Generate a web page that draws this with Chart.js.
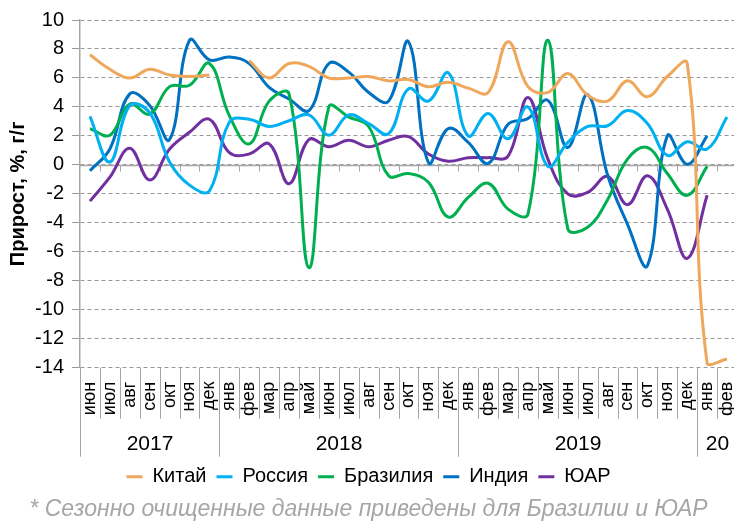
<!DOCTYPE html>
<html>
<head>
<meta charset="utf-8">
<script src="https://cdn.jsdelivr.net/npm/chart.js@4.4.1/dist/chart.umd.min.js"></script>
<style>
  html, body { margin: 0; padding: 0; background: #fff; overflow: hidden; }
  #wrap { width: 744px; height: 522px; }
</style>
</head>
<body>
<div id="wrap"><canvas id="chart" width="744" height="522"></canvas></div>
<script>
const months = ['июн', 'июл', 'авг', 'сен', 'окт', 'ноя', 'дек',
    'янв', 'фев', 'мар', 'апр', 'май', 'июн', 'июл', 'авг', 'сен', 'окт', 'ноя', 'дек',
    'янв', 'фев', 'мар', 'апр', 'май', 'июн', 'июл', 'авг', 'сен', 'окт', 'ноя', 'дек',
    'янв', 'фев'];
const yearLabels = ['2017', '2018', '2019', '20'];
const yearSizes = [7, 12, 12, 2];

const china = [7.6, 6.6, 6.0, 6.6, 6.2, 6.1, 6.2, null, 7.2, 6.0, 7.0, 6.8, 6.0, 6.0, 6.1, 5.8,
    5.9, 5.4, 5.7, 5.3, 5.0, 8.5, 5.4, 5.0, 6.3, 4.8, 4.4, 5.8, 4.7, 6.1, 7.0, -13.7, -13.4];
const russia = [3.35, 0.2, 4.1, 3.6, 0.2, -1.4, -1.8, 2.95, 3.15, 2.65, 3.05, 3.45, 2.05, 3.45,
    2.85, 2.15, 5.25, 4.4, 6.35, 2.0, 3.55, 1.8, 4.0, -0.1, 1.55, 2.65, 2.7, 3.75, 2.85, 0.65,
    1.6, 1.1, 3.3];
const brazil = [2.5, 2.05, 4.2, 3.5, 5.4, 5.5, 7.0, 3.4, 1.45, 4.4, 4.9, -7.1, 4.0, 3.3, 2.65,
    -0.75, -0.6, -1.2, -3.6, -2.25, -1.27, -3.05, -3.4, 8.6, -4.4, -4.3, -2.4, 0.4, 1.2, -0.6,
    -2.1, -0.1, null];
const india = [-0.4, 1.1, 4.9, 4.1, 1.75, 8.6, 7.25, 7.45, 7.0, 5.35, 4.55, 3.75, 7.0, 6.4, 5.0,
    4.4, 8.5, 0.15, 2.5, 1.55, 0.1, 2.8, 3.2, 4.45, 1.2, 4.85, -0.7, -4.1, -6.95, 2.0, 0.05,
    2.0, null];
const sar = [-2.5, -0.85, 1.15, -1.05, 1.1, 2.25, 3.15, 0.85, 0.75, 1.45, -1.3, 1.75, 1.25, 1.7,
    1.25, 1.7, 1.95, 0.75, 0.25, 0.5, 0.5, 0.6, 4.65, 0.4, -2.0, -1.9, -0.8, -2.75, -0.75,
    -3.05, -6.45, -2.1, null];

const FONT = "'Liberation Sans', Arial, sans-serif";
const AXIS_GREY = '#a6a6a6';

function series(label, data, color) {
    return {
        label, data,
        borderColor: color,
        backgroundColor: color,
        borderWidth: 3,
        pointRadius: 0,
        tension: 0.4,
        spanGaps: false
    };
}

// separators, zero line and year row under the month labels
const axisDecor = {
    id: 'axisDecor',
    beforeDatasetsDraw(chart) {
        const { ctx, chartArea, scales: { x, y } } = chart;
        const half = (x.getPixelForValue(1) - x.getPixelForValue(0)) / 2;
        const edge = i => Math.round(x.getPixelForValue(i) - half) + 0.5;
        const bottom = chartArea.bottom;
        const y0 = Math.round(y.getPixelForValue(0)) + 0.5;

        ctx.save();
        ctx.strokeStyle = AXIS_GREY;
        ctx.lineWidth = 1.5;
        ctx.beginPath();
        ctx.moveTo(chartArea.left, y0);
        ctx.lineTo(chartArea.right, y0);
        ctx.stroke();

        ctx.lineWidth = 1;
        ctx.beginPath();
        for (let i = 1; i <= months.length; i++) {
            ctx.moveTo(edge(i), y0);
            ctx.lineTo(edge(i), y0 + 6);
            ctx.moveTo(edge(i), bottom);
            ctx.lineTo(edge(i), bottom + 51);
        }
        // year boundaries go further down
        let start = 0;
        ctx.moveTo(edge(0), bottom);
        ctx.lineTo(edge(0), bottom + 89);
        yearSizes.forEach(n => {
            start += n;
            ctx.moveTo(edge(start), bottom);
            ctx.lineTo(edge(start), bottom + 89);
        });
        ctx.stroke();

        ctx.fillStyle = '#000';
        ctx.font = '21px ' + FONT;
        ctx.textAlign = 'center';
        ctx.textBaseline = 'middle';
        start = 0;
        yearSizes.forEach((n, k) => {
            const mid = (edge(start) + edge(start + n)) / 2;
            ctx.fillText(yearLabels[k], mid, bottom + 77);
            start += n;
        });
        ctx.restore();
    }
};

new Chart(document.getElementById('chart'), {
    type: 'line',
    data: {
        labels: months,
        datasets: [
            series('Китай', china, '#EEA75B'),
            series('Россия', russia, '#00B0F0'),
            series('Бразилия', brazil, '#00B050'),
            series('Индия', india, '#0070C0'),
            series('ЮАР', sar, '#7030A0')
        ]
    },
    options: {
        responsive: false,
        animation: false,
        devicePixelRatio: 1,
        layout: { padding: { top: 18, right: 7, left: 0, bottom: 0 } },
        plugins: {
            tooltip: { enabled: false },
            legend: {
                position: 'bottom',
                labels: {
                    color: '#000',
                    font: { family: FONT, size: 20 },
                    usePointStyle: true,
                    pointStyle: 'line',
                    pointStyleWidth: 16,
                    padding: 10
                }
            },
            title: {
                display: true,
                position: 'bottom',
                text: '* Сезонно очищенные данные приведены для Бразилии и ЮАР',
                color: '#a6a6a6',
                font: { family: FONT, size: 23, style: 'italic', weight: 'normal', lineHeight: 1.1 },
                padding: 0
            }
        },
        scales: {
            x: {
                offset: true,
                grid: { display: false, drawTicks: false },
                border: { display: false },
                ticks: {
                    autoSkip: false,
                    maxRotation: 90,
                    minRotation: 90,
                    padding: 14,
                    color: '#000',
                    font: { family: FONT, size: 18 }
                },
                afterFit(scale) {
                    scale.height = 89;
                    scale.paddingLeft = 0;
                    scale.paddingRight = 0;
                }
            },
            y: {
                min: -14,
                max: 10,
                ticks: {
                    stepSize: 2,
                    padding: 8,
                    color: '#000',
                    font: { family: FONT, size: 20 }
                },
                grid: { color: '#999', tickLength: 8 },
                border: { display: true, color: AXIS_GREY, width: 1.5, dash: [4, 3] },
                title: {
                    display: true,
                    text: 'Прирост, %, г/г',
                    color: '#000',
                    font: { family: FONT, size: 20, weight: 'bold' },
                    padding: { top: 6, bottom: 0 }
                },
                afterFit(scale) { scale.width = 80; }
            }
        }
    },
    plugins: [axisDecor]
});
</script>
</body>
</html>
